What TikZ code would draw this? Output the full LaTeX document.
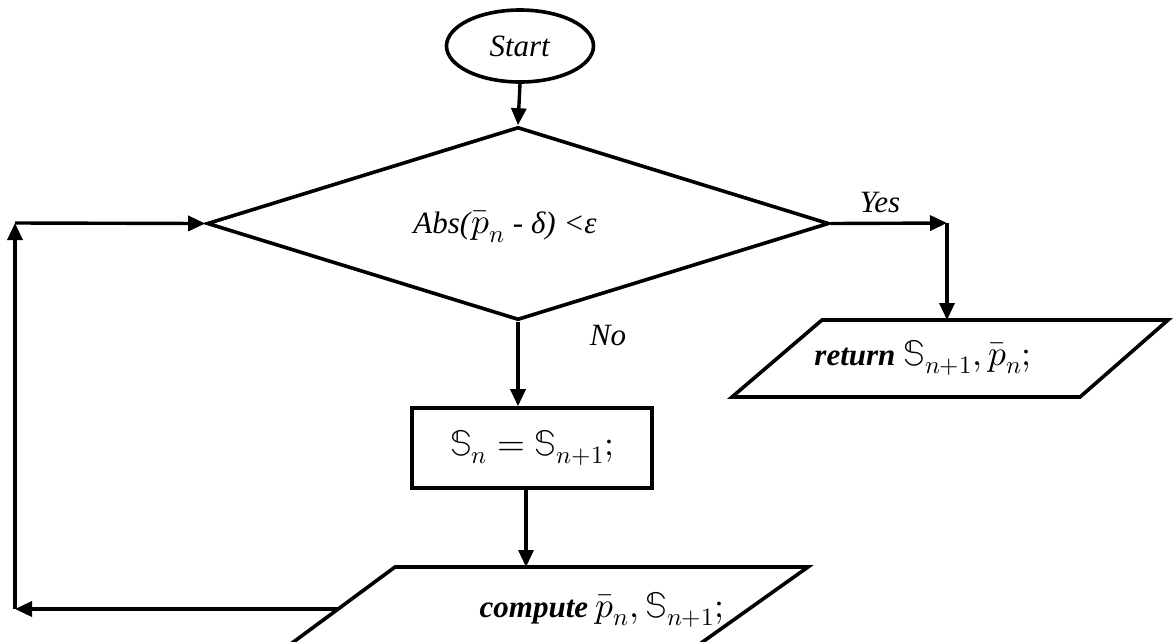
\documentclass[tikz,border=0pt]{standalone}
\usepackage{fontspec}
\usepackage{unicode-math}
\setmainfont{Liberation Serif}
\setmathfont{Latin Modern Math}[Scale=1.15]
\usetikzlibrary{shapes.geometric,arrows.meta,calc}
\begin{document}
\begin{tikzpicture}[x=1pt,y=-1pt,
  every node/.style={font=\fontsize{31}{37}\selectfont},
  outline/.style={draw=black,line width=3.6pt,line join=miter},
  flow/.style={line width=3.4pt,-{Triangle[length=17pt,width=15pt]}},
  lbl/.style={inner sep=0pt}]
\useasboundingbox (0,0) rectangle (1175,641);
\clip (0,0) rectangle (1175,641);

% terminal
\node[outline,ellipse,minimum width=147pt,minimum height=72pt,inner sep=0pt] (start) at (520,46) {\textit{Start}};

% decision
\node[outline,diamond,minimum width=622pt,minimum height=193pt,inner sep=0pt] (dia) at (518,223.5) {};
\node[lbl] (cond) at (505,227) {\textit{Abs(}$\bar{p}_n$\textit{ - δ) <ε}};

% return (input/output)
\coordinate (r1) at (822,320);
\coordinate (r2) at (1168,320);
\coordinate (r3) at (1080,397);
\coordinate (r4) at (732,397);
\draw[outline] (r1) -- (r2) -- (r3) -- (r4) -- cycle;
\node[lbl] (ret) at (923,358) {\textbf{\textit{return}} $\mathbb{S}_{n+1},\bar{p}_n;$};
\coordinate (rtop) at (947,320);

% process
\node[outline,rectangle,minimum width=240pt,minimum height=80pt,inner sep=0pt] (box) at (532,448) {$\mathbb{S}_n=\mathbb{S}_{n+1};$};

% compute (input/output, runs past the lower edge)
\coordinate (c1) at (395,567);
\coordinate (c2) at (808,567);
\coordinate (c3) at (703,641);
\coordinate (c4) at (295,641);
\draw[outline] ($(c4)+(-30,22)$) -- (c1) -- (c2) -- ($(c3)+(-30,22)$);
\node[lbl] (comp) at (602,610) {\textbf{\textit{compute}} $\bar{p}_n,\mathbb{S}_{n+1};$};
\coordinate (ctop) at (526,567);
\coordinate (cleft) at (338,609);

% loop corners
\coordinate (yesend) at (947,223);
\coordinate (lowL) at (15,609);
\coordinate (upL) at (15,223);

% connectors
\draw[flow] (start.south) -- (dia.north);
\draw[flow] (dia.east) -- (yesend);
\draw[flow] (yesend) -- (rtop);
\draw[flow] (dia.south) -- (dia.south |- box.north);
\draw[flow] (box.south -| ctop) -- (ctop);
\draw[flow] (cleft) -- (lowL);
\draw[flow] (lowL) -- (upL);
\draw[flow] (upL) -- (dia.west);

% branch labels
\node[lbl] (yes) at (880,202) {\textit{Yes}};
\node[lbl] (no) at (608,335) {\textit{No}};
\end{tikzpicture}
\end{document}
